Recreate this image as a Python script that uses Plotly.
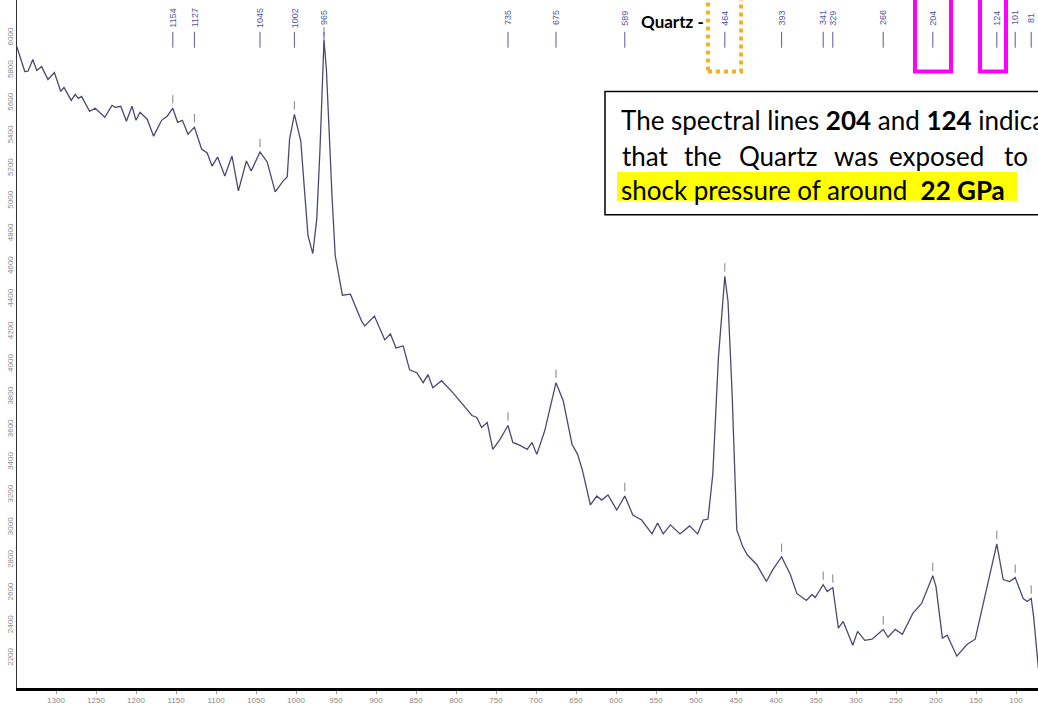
import plotly.graph_objects as go

# ---------------- data ----------------
wavenumber = [1349, 1339, 1335, 1329, 1324, 1318, 1310, 1302, 1294, 1290, 1281, 1276, 1272, 1268,
              1258, 1251, 1239, 1230, 1226, 1219, 1212, 1205, 1200, 1195, 1186, 1178, 1168, 1161,
              1154, 1148, 1142, 1135, 1127, 1118, 1111, 1105, 1098, 1089, 1080, 1072, 1062, 1056,
              1045, 1036, 1026, 1016, 1011, 1008, 1002, 999, 994, 990, 985, 979, 974, 970, 965,
              962, 959, 955, 951, 942, 932, 926, 918, 914, 902, 889, 882, 875, 866, 858, 849, 841,
              835, 829, 818, 804, 789, 780, 774, 768, 761, 754, 745, 735, 729, 720, 711, 705, 699,
              689, 675, 666, 655, 648, 642, 632, 624, 618, 610, 599, 589, 579, 568, 555, 548, 541,
              532, 520, 508, 498, 491, 485, 479, 472, 464, 460, 455, 449, 442, 436, 424, 412, 404,
              393, 382, 374, 362, 355, 351, 341, 336, 329, 322, 316, 304, 298, 289, 280, 266, 260,
              251, 242, 229, 218, 204, 200, 192, 186, 174, 161, 151, 136, 124, 116, 108, 101, 91,
              86, 81, 78, 72]
intensity = [5945, 5793, 5795, 5866, 5799, 5823, 5744, 5787, 5671, 5696, 5616, 5653, 5629, 5641,
             5549, 5568, 5513, 5586, 5574, 5580, 5488, 5580, 5494, 5543, 5501, 5397, 5494, 5519,
             5568, 5482, 5494, 5409, 5452, 5318, 5294, 5214, 5269, 5153, 5275, 5062, 5245, 5184,
             5300, 5239, 5056, 5123, 5147, 5379, 5531, 5470, 5367, 5105, 4788, 4678, 4892, 5318, 5985,
             5805, 5440, 5032, 4666, 4423, 4429, 4362, 4264, 4234, 4295, 4149, 4185, 4100, 4112, 3966, 3948, 3887,
             3936, 3856, 3899, 3826, 3735, 3686, 3674, 3613, 3643, 3479, 3540, 3625, 3521, 3503, 3479, 3521, 3448,
             3594, 3887, 3777, 3510, 3448, 3351, 3138, 3193, 3168, 3199, 3107, 3193, 3077, 3046, 2961, 3028, 2961,
             3016, 2961, 3010, 2961, 3046, 3052, 3326, 4039, 4538, 4386, 3838, 2985, 2888, 2833, 2772, 2669, 2742,
             2821, 2711, 2596, 2553, 2590, 2571, 2650, 2608, 2632, 2383, 2425, 2279, 2364, 2309, 2316, 2376, 2328,
             2376, 2346, 2474, 2535, 2705, 2638, 2322, 2340, 2212, 2285, 2316, 2638, 2900, 2681, 2669, 2693, 2565,
             2547, 2565, 2456, 2139]

peak_positions = [1154, 1127, 1045, 1002, 965, 735, 675, 589, 464, 393, 341, 329, 266, 204, 124, 101, 81]
x_tick_values = list(range(100, 1301, 50))
y_tick_values = list(range(2200, 6001, 200))

# ---------------- layout helpers ----------------
W, H = 1038, 705
ML, MR, MT, MB = 17, 0, 0, 13
PW, PH = W - ML - MR, H - MT - MB


def pxx(x):
    return (x - ML) / PW


def pxy(y):
    return (H - MB - y) / PH


LINE_COL = "#4a4a70"
LABEL_COL = "#5656a0"
TEXT_FONT = "Lato, Carlito, 'Open Sans', sans-serif"
TEXT_SIZE = 26

fig = go.Figure()
fig.add_trace(go.Scatter(x=wavenumber, y=intensity, mode="lines",
                         line=dict(color=LINE_COL, width=1.3), hoverinfo="skip"))

# small tick marks above the labelled peaks
lookup = dict(zip(wavenumber, intensity))
fig.add_trace(go.Scatter(x=peak_positions, y=[lookup[p] + 55 for p in peak_positions],
                         mode="markers",
                         marker=dict(symbol="line-ns", size=6,
                                     line=dict(color="#808080", width=1)),
                         hoverinfo="skip"))

shapes = []
annotations = []

# peak labels at the top with stems
for p in peak_positions:
    shapes.append(dict(type="line", xref="x", yref="paper", x0=p, x1=p,
                       y0=pxy(48), y1=pxy(32), line=dict(color=LABEL_COL, width=1)))
    annotations.append(dict(x=p, y=pxy(18), xref="x", yref="paper", text=str(p),
                            textangle=-90, showarrow=False,
                            font=dict(family="Liberation Sans, Arial", size=9, color=LABEL_COL),
                            xanchor="center", yanchor="middle"))

annotations.append(dict(x=pxx(706), y=pxy(22), xref="paper", yref="paper",
                        text="<b>Quartz -</b>", showarrow=False, xanchor="right",
                        yanchor="middle",
                        font=dict(family=TEXT_FONT, size=17, color="black")))

# highlight boxes
shapes.append(dict(type="rect", xref="paper", yref="paper",
                   x0=pxx(708), x1=pxx(741), y0=pxy(72), y1=pxy(-10),
                   line=dict(color="#F5B120", width=4, dash="dot")))
for a, b in [(915, 951), (980, 1006)]:
    shapes.append(dict(type="rect", xref="paper", yref="paper",
                       x0=pxx(a), x1=pxx(b), y0=pxy(72), y1=pxy(-10),
                       line=dict(color="#FF00FF", width=4)))

# text box
shapes.append(dict(type="rect", xref="paper", yref="paper",
                   x0=pxx(605), x1=pxx(1060), y0=pxy(216), y1=pxy(92),
                   fillcolor="white", line=dict(color="black", width=1.5), layer="above"))
shapes.append(dict(type="rect", xref="paper", yref="paper",
                   x0=pxx(617), x1=pxx(1017), y0=pxy(202), y1=pxy(173),
                   fillcolor="#FFFF00", line=dict(width=0), layer="above"))

text_font = dict(family=TEXT_FONT, size=TEXT_SIZE, color="black")
# line 1 and line 3: natural spacing
annotations.append(dict(x=pxx(619), y=pxy(121), xref="paper", yref="paper",
                        text="The spectral lines <b>204</b> and <b>124</b> indicate",
                        showarrow=False, xanchor="left", yanchor="middle", font=text_font))
annotations.append(dict(x=pxx(619), y=pxy(191), xref="paper", yref="paper",
                        text="shock pressure of around&nbsp; <b>22 GPa</b>",
                        showarrow=False, xanchor="left", yanchor="middle", font=text_font))
# line 2: justified, word by word
line2 = [(620, "that"), (682, "the"), (737, "Quartz"), (832, "was"),
         (887, "exposed"), (1002, "to")]
for xx, w in line2:
    annotations.append(dict(x=pxx(xx), y=pxy(157), xref="paper", yref="paper",
                            text=w, showarrow=False, xanchor="left", yanchor="middle",
                            font=text_font))

fig.update_layout(
    width=W, height=H, autosize=False,
    margin=dict(l=ML, r=MR, t=MT, b=MB, pad=0),
    paper_bgcolor="white", plot_bgcolor="white",
    showlegend=False,
    shapes=shapes, annotations=annotations,
    xaxis=dict(range=[1348.75, 72.5], tickvals=x_tick_values,
               showgrid=False, zeroline=False,
               showline=True, linecolor="black", linewidth=2.5,
               ticks="outside", ticklen=3, tickcolor="#999",
               tickfont=dict(family="Liberation Sans, Arial", size=8, color="#8a8a8a")),
    yaxis=dict(range=[2017, 6231], tickvals=y_tick_values,
               showgrid=False, zeroline=False,
               showline=True, linecolor="#333", linewidth=1.2,
               ticks="", tickangle=-90,
               tickfont=dict(family="Liberation Sans, Arial", size=8, color="#8a8a8a")),
)

fig.write_html("out.html", config={"displayModeBar": False},
               post_script="document.body.style.margin='0';")
